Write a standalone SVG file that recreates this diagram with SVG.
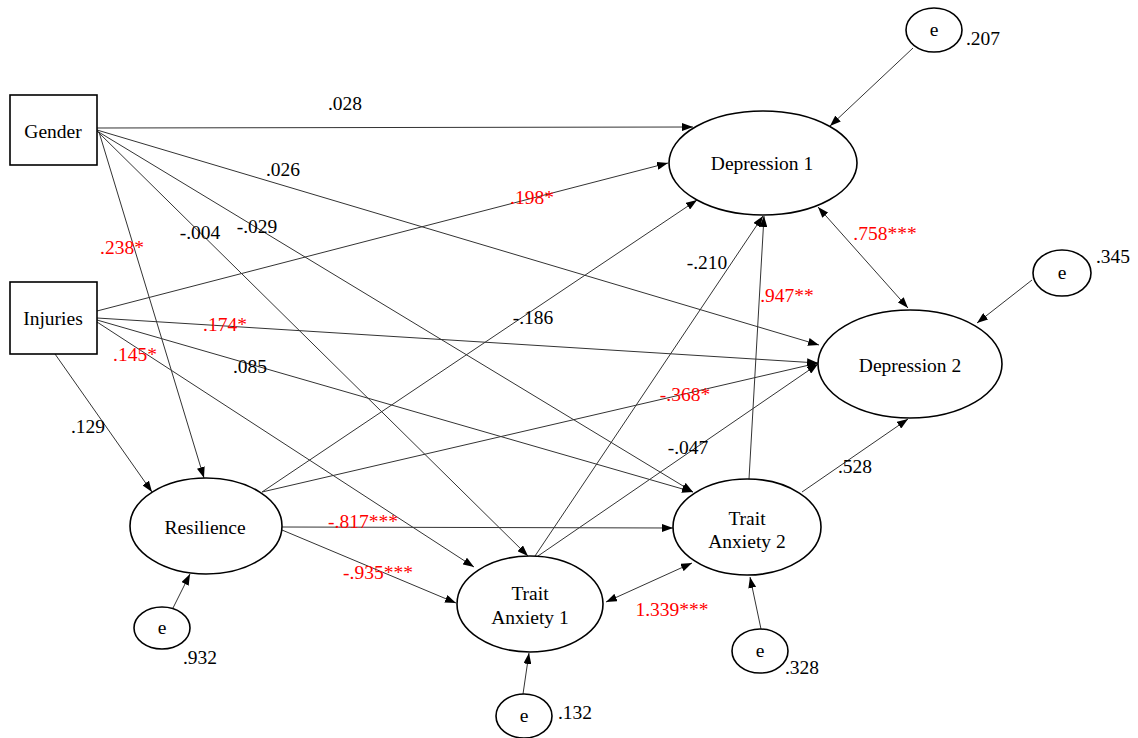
<svg xmlns="http://www.w3.org/2000/svg" width="1138" height="738" viewBox="0 0 1138 738" font-family="'Liberation Serif', 'DejaVu Serif', serif">
<defs>
<marker id="ah" viewBox="0 0 11 8" refX="11" refY="4" markerWidth="11" markerHeight="8" markerUnits="userSpaceOnUse" orient="auto-start-reverse">
<path d="M0,0 L11,4 L0,8 z" fill="#000"/>
</marker>
<style>
.n{fill:#fff;stroke:#000;stroke-width:1.6}
.c line{stroke:#333;stroke-width:1;marker-end:url(#ah)}
.c line.b{marker-start:url(#ah)}
text{font-family:'Liberation Serif','DejaVu Serif',serif;font-size:19.5px;fill:#000;text-anchor:middle}
.r{fill:#ff0000}
</style>
</defs>
<rect width="1138" height="738" fill="#fff"/>
<g class="c" id="connectors">
<line x1="97" y1="128" x2="693" y2="127"/>
<line x1="97" y1="130" x2="819" y2="345"/>
<line x1="99" y1="132" x2="204" y2="478"/>
<line x1="97" y1="131" x2="528" y2="556"/>
<line x1="97" y1="131" x2="693" y2="492"/>
<line x1="97" y1="311" x2="668" y2="163"/>
<line x1="97" y1="318" x2="818" y2="363"/>
<line x1="97" y1="320" x2="693" y2="492"/>
<line x1="97" y1="322" x2="474" y2="567"/>
<line x1="55" y1="354" x2="152" y2="492"/>
<line x1="262" y1="492" x2="697" y2="200"/>
<line x1="262" y1="492" x2="818" y2="363"/>
<line x1="282" y1="527" x2="673" y2="528"/>
<line x1="282" y1="530" x2="456" y2="603"/>
<line x1="535" y1="556" x2="763" y2="216"/>
<line x1="538" y1="556" x2="818" y2="364"/>
<line x1="749" y1="479" x2="764" y2="216"/>
<line x1="802" y1="492" x2="908" y2="419"/>
<line class="b" x1="818" y1="207" x2="908" y2="308"/>
<line class="b" x1="606" y1="602" x2="692" y2="563"/>
<line x1="913" y1="48" x2="830" y2="126"/>
<line x1="1032" y1="280" x2="977" y2="323"/>
<line x1="173" y1="608" x2="190" y2="574"/>
<line x1="523" y1="694" x2="529" y2="653"/>
<line x1="761" y1="629" x2="750" y2="577"/>
</g>
<g id="gender"><rect class="n" x="10" y="95" width="87" height="70"/><text x="53" y="138">Gender</text></g>
<g id="injuries"><rect class="n" x="10" y="282" width="87" height="72"/><text x="53" y="325">Injuries</text></g>
<g id="depression1"><ellipse class="n" cx="763" cy="163" rx="94" ry="52"/><text x="762" y="170">Depression 1</text></g>
<g id="depression2"><ellipse class="n" cx="910" cy="364" rx="92" ry="54"/><text x="910" y="372">Depression 2</text></g>
<g id="resilience"><ellipse class="n" cx="206" cy="526" rx="76" ry="48"/><text x="205" y="534">Resilience</text></g>
<g id="trait1"><ellipse class="n" cx="530" cy="604" rx="73" ry="48"/><text x="530" y="600">Trait</text><text x="530" y="624">Anxiety 1</text></g>
<g id="trait2"><ellipse class="n" cx="747" cy="527" rx="74" ry="48"/><text x="747" y="525">Trait</text><text x="747" y="548">Anxiety 2</text></g>
<g id="e_d1"><ellipse class="n" cx="934" cy="30" rx="28" ry="22"/><text x="934" y="36">e</text></g>
<g id="e_d2"><ellipse class="n" cx="1062" cy="273" rx="29" ry="23"/><text x="1062" y="279">e</text></g>
<g id="e_res"><ellipse class="n" cx="162" cy="628" rx="28" ry="21"/><text x="162" y="634">e</text></g>
<g id="e_ta1"><ellipse class="n" cx="524" cy="716" rx="28" ry="22"/><text x="524" y="722">e</text></g>
<g id="e_ta2"><ellipse class="n" cx="760" cy="651" rx="28" ry="22"/><text x="760" y="657">e</text></g>
<g id="labels">
<text x="345" y="110">.028</text>
<text x="283" y="176">.026</text>
<text class="r" x="122" y="254">.238*</text>
<text x="200" y="239">-.004</text>
<text x="257" y="233">-.029</text>
<text class="r" x="532" y="204">.198*</text>
<text class="r" x="225" y="331">.174*</text>
<text class="r" x="135" y="361">.145*</text>
<text x="250" y="373">.085</text>
<text x="88" y="433">.129</text>
<text x="533" y="324">-.186</text>
<text x="707" y="269">-.210</text>
<text class="r" x="787" y="302">.947**</text>
<text class="r" x="885" y="240">.758***</text>
<text class="r" x="685" y="401">-.368*</text>
<text x="688" y="454">-.047</text>
<text x="855" y="473">.528</text>
<text class="r" x="363" y="528">-.817***</text>
<text class="r" x="378" y="579">-.935***</text>
<text class="r" x="672" y="616">1.339***</text>
<text x="983" y="45">.207</text>
<text x="1113" y="263">.345</text>
<text x="200" y="664">.932</text>
<text x="575" y="719">.132</text>
<text x="802" y="674">.328</text>
</g>
</svg>
